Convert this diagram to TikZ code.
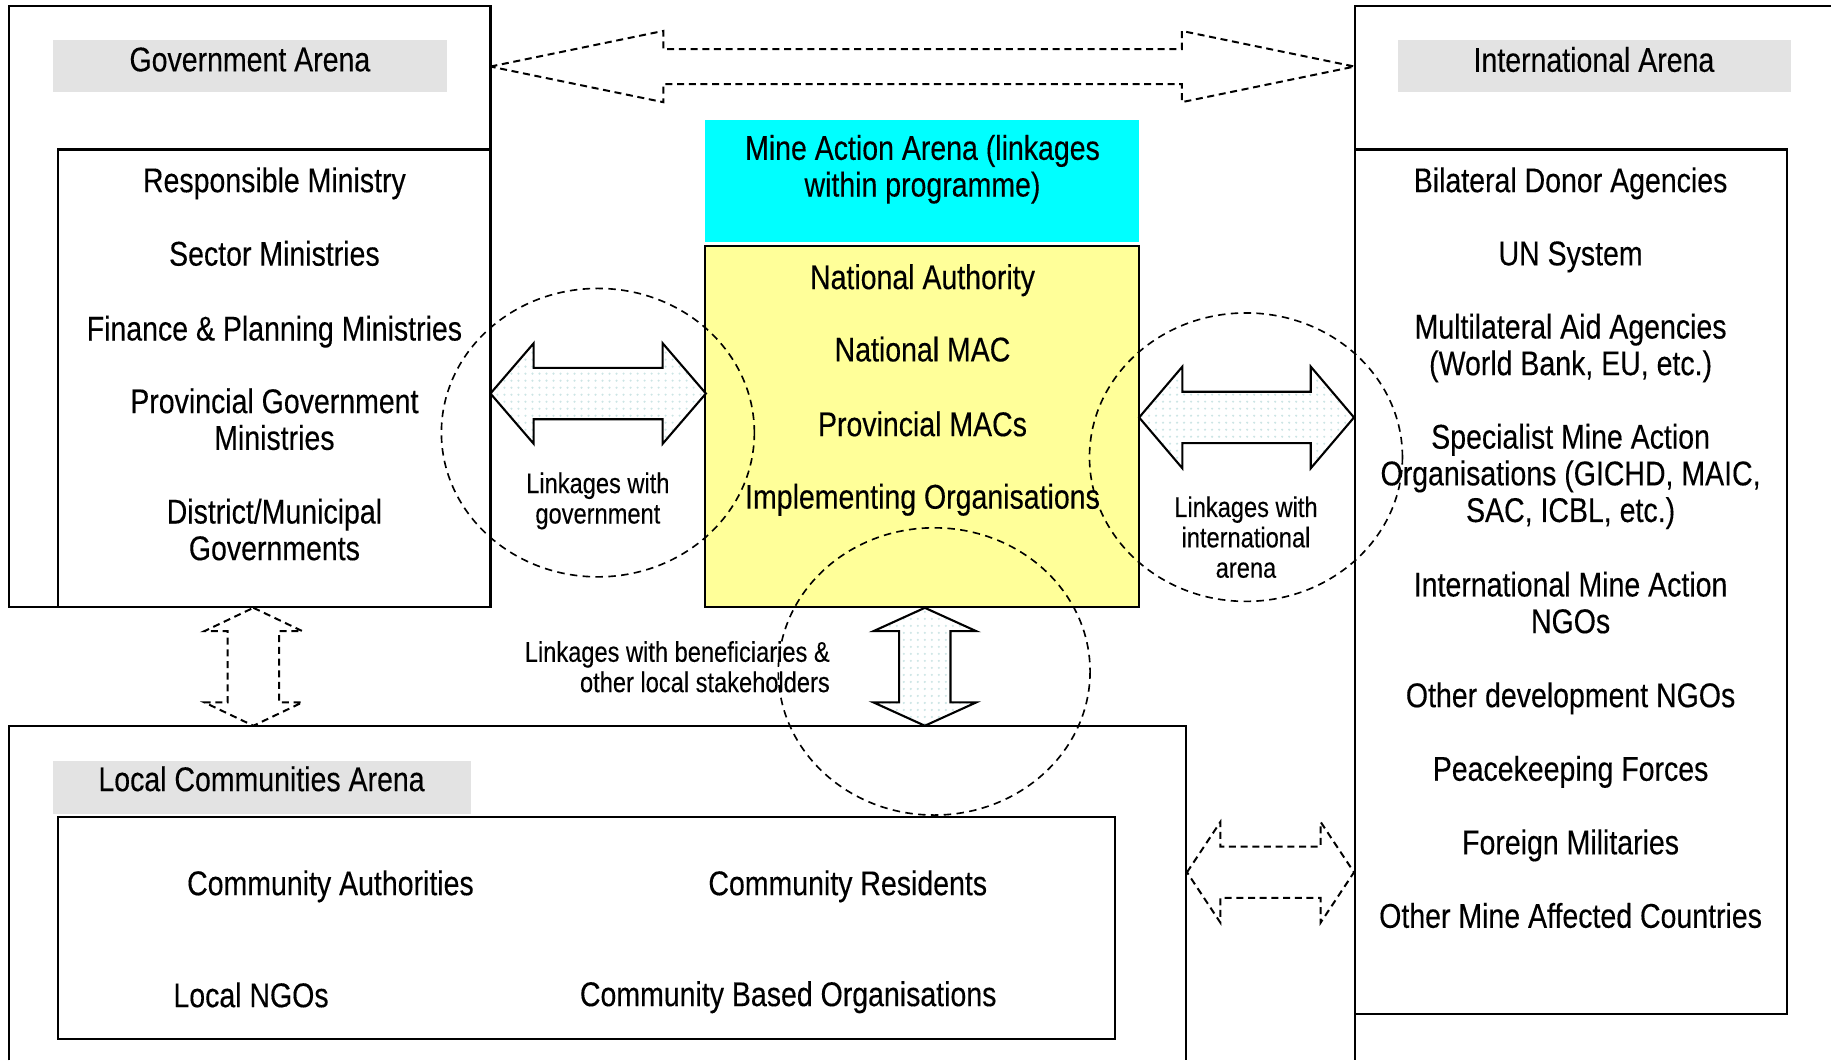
\documentclass[tikz,border=0pt]{standalone}
\usepackage{fontspec}
\setmainfont{Liberation Sans}[FakeStretch=0.83, FakeBold=0.25]
\usetikzlibrary{patterns}
\definecolor{labgray}{HTML}{E3E3E3}
\definecolor{macyan}{HTML}{00FFFF}
\definecolor{mayellow}{HTML}{FFFF99}
\newcommand\hblockarrow[7]{% style, xl, xr, y, head length, head half, shaft half
  \draw[#1] (#2,#4) -- ({#2+#5},{#4-#6}) -- ({#2+#5},{#4-#7}) -- ({#3-#5},{#4-#7}) -- ({#3-#5},{#4-#6}) -- (#3,#4) -- ({#3-#5},{#4+#6}) -- ({#3-#5},{#4+#7}) -- ({#2+#5},{#4+#7}) -- ({#2+#5},{#4+#6}) -- cycle;}
\newcommand\vblockarrow[7]{% style, x, yt, yb, head length, head half, shaft half
  \draw[#1] (#2,#3) -- ({#2+#6},{#3+#5}) -- ({#2+#7},{#3+#5}) -- ({#2+#7},{#4-#5}) -- ({#2+#6},{#4-#5}) -- (#2,#4) -- ({#2-#6},{#4-#5}) -- ({#2-#7},{#4-#5}) -- ({#2-#7},{#3+#5}) -- ({#2-#6},{#3+#5}) -- cycle;}
\begin{document}
\begin{tikzpicture}[x=0.5pt,y=-0.5pt,
  box/.style={draw=black, line width=0.9pt},
  lbl/.style={font=\fontsize{14.7}{15.7}\selectfont, align=center, inner sep=0pt},
  small/.style={font=\fontsize{12.2}{13}\selectfont, align=center, inner sep=0pt},
  dsh/.style={draw=black, line width=0.85pt, dash pattern=on 3pt off 2pt},
  ring/.style={draw=black, line width=0.7pt, dash pattern=on 3.2pt off 2.3pt},
  blk/.style={draw=black, line width=0.9pt, preaction={fill=white}, pattern=dots, pattern color=teal!20}]
\useasboundingbox (0,0) rectangle (1568,908);

% ---------- Government arena ----------
\draw[box] (8,5) rectangle (420,520);
\draw[box] (50,128) rectangle (420,520);
\fill[labgray] (45,34) rectangle (383,79);
\node[lbl] (govt) at (214,51) {Government Arena};
\node[lbl] (g1) at (235,157) {Responsible Ministry};
\node[lbl] (g2) at (235,217) {Sector Ministries};
\node[lbl] (g3) at (235,284) {Finance \& Planning Ministries};
\node[lbl] (g4) at (235,359) {Provincial Government\\Ministries};
\node[lbl] (g5) at (235,453.5) {District/Municipal\\Governments};

% ---------- International arena ----------
\draw[box] (1568,5) -- (1160,5) -- (1160,908);
\draw[box] (1160,128) rectangle (1530,868);
\fill[labgray] (1197,34) rectangle (1534,79);
\node[lbl] (intl) at (1365,51) {International Arena};
\node[lbl] (i1) at (1345,157) {Bilateral Donor Agencies};
\node[lbl] (i2) at (1345,220) {UN System};
\node[lbl] (i3) at (1345,298) {Multilateral Aid Agencies\\(World Bank, EU, etc.)};
\node[lbl] (i4) at (1345,408) {Specialist Mine Action\\Organisations (GICHD, MAIC,\\SAC, ICBL, etc.)};
\node[lbl] (i5) at (1345,516) {International Mine Action\\NGOs};
\node[lbl] (i6) at (1345,598) {Other development NGOs};
\node[lbl] (i7) at (1345,661) {Peacekeeping Forces};
\node[lbl] (i8) at (1345,724) {Foreign Militaries};
\node[lbl] (i9) at (1345,784) {Other Mine Affected Countries};

% ---------- Local communities arena ----------
\draw[box] (8,908) -- (8,622) -- (1016,622) -- (1016,908);
\draw[box] (50,700) rectangle (955,890);
\fill[labgray] (45,652) rectangle (403,697);
\node[lbl] (loc) at (224,667) {Local Communities Arena};
\node[lbl] (l1) at (283,759) {Community Authorities};
\node[lbl] (l2) at (726,759) {Community Residents};
\node[lbl] (l3) at (215,852) {Local NGOs};
\node[lbl] (l4) at (675,854) {Community Based Organisations};

% ---------- Mine action arena ----------
\fill[macyan] (604,103) rectangle (975,207);
\draw[box, fill=mayellow] (604,211) rectangle (975,520);
\node[lbl] (ma) at (790,145) {Mine Action Arena (linkages\\within programme)};
\node[lbl] (m1) at (790,240) {National Authority};
\node[lbl] (m2) at (790,299) {National MAC};
\node[lbl] (m3) at (790,363) {Provincial MACs};
\node[lbl] (m4) at (790,428) {Implementing Organisations};

% ---------- block arrows ----------
\hblockarrow{dsh}{420}{1160}{57}{148}{30.5}{15}
\hblockarrow{blk}{420}{604.5}{337}{37}{43}{22}
\hblockarrow{blk}{975.5}{1159.5}{357.5}{37}{43.5}{22}
\hblockarrow{dsh}{1016.5}{1159.5}{747}{28.5}{43}{22}
\vblockarrow{blk}{792}{520.5}{621.5}{20}{44}{22}
\vblockarrow{dsh}{217}{520.5}{621.5}{20}{42}{22}

% ---------- linkage rings ----------
\draw[ring] (512,370.5) ellipse [x radius=134, y radius=123.5];
\draw[ring] (1067,391.5) ellipse [x radius=134, y radius=123.5];
\draw[ring] (800,575) ellipse [x radius=133.5, y radius=123];

\node[small] (lg) at (512,429) {Linkages with\\government};
\node[small] (li) at (1067,460) {Linkages with\\international\\arena};
\node[small, align=right, anchor=east] (lb) at (711,571) {Linkages with beneficiaries \&\\other local stakeholders};
\end{tikzpicture}
\end{document}
